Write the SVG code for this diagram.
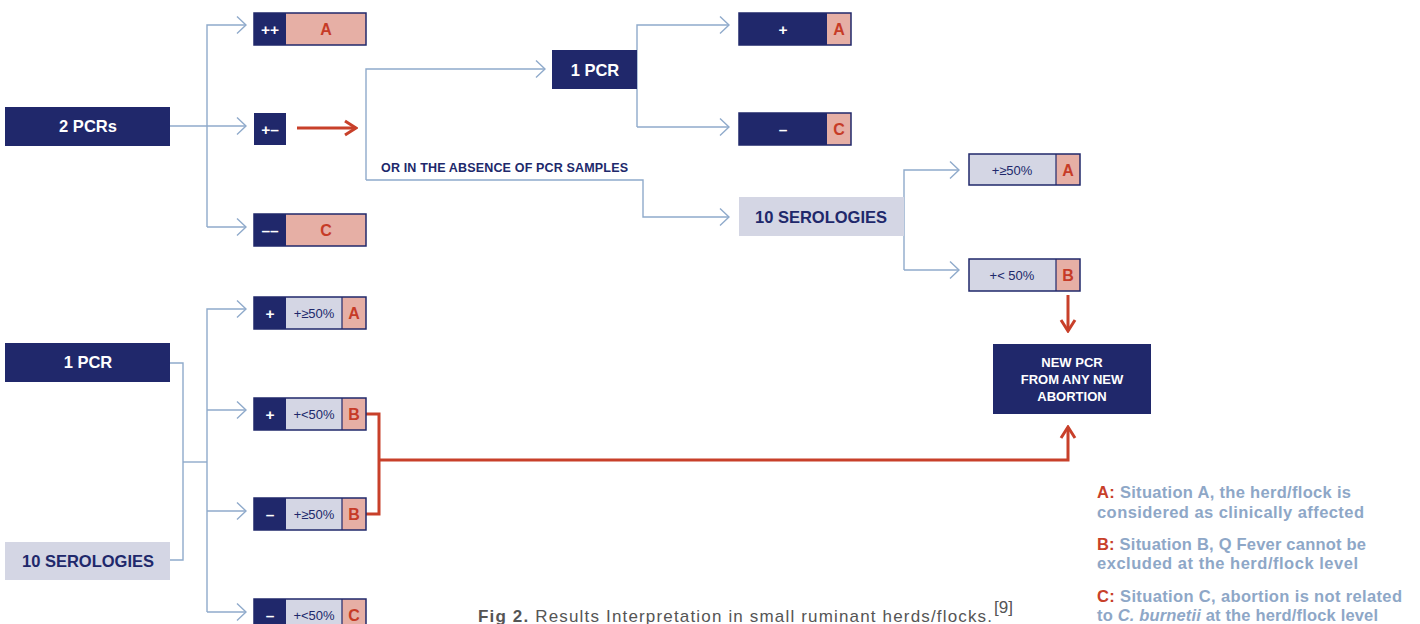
<svg xmlns="http://www.w3.org/2000/svg" width="1420" height="624" viewBox="0 0 1420 624">
<style>
.navy{fill:#20286B}
.pink{fill:#E6AFA5}
.lite{fill:#D4D6E4}
.frame{fill:none;stroke:#20286B;stroke-width:1.5}
.div{stroke:#20286B;stroke-width:1.2}
.conn{fill:none;stroke:#8FAACB;stroke-width:1.4}
.redl{fill:none;stroke:#C8402A;stroke-width:3}
.big{font-family:'Liberation Sans',Arial,sans-serif;font-weight:bold;font-size:16.5px;text-anchor:middle}
.w{fill:#FFFFFF}
.n{fill:#20286B}
.sym{font-family:'Liberation Sans',Arial,sans-serif;font-weight:bold;font-size:15.5px;text-anchor:middle;fill:#FFFFFF}
.let{font-family:'Liberation Sans',Arial,sans-serif;font-weight:bold;font-size:16px;text-anchor:middle;fill:#C63B27}
.pct{font-family:'Liberation Sans',Arial,sans-serif;font-size:13px;text-anchor:middle;fill:#20286B}
.small{font-family:'Liberation Sans',Arial,sans-serif;font-weight:bold;font-size:12.5px;fill:#20286B}
.np{font-family:'Liberation Sans',Arial,sans-serif;font-weight:bold;font-size:13px;text-anchor:middle;fill:#FFFFFF}
.leg{font-family:'Liberation Sans',Arial,sans-serif;font-weight:bold;font-size:16.5px;fill:#8EA7C7}
.lr{fill:#C8402A}
.cap{font-family:'Liberation Sans',Arial,sans-serif;font-size:17px;fill:#555555}
</style>
<defs>
<marker id="chev" viewBox="-11 -10 12 20" refX="0" refY="0" markerWidth="12" markerHeight="20" markerUnits="userSpaceOnUse" orient="auto">
<path d="M-9,-8.5 L0,0 L-9,8.5" fill="none" stroke="#8FAACB" stroke-width="1.4"/>
</marker>
<marker id="redchev" viewBox="-14 -10 16 20" refX="0" refY="0" markerWidth="16" markerHeight="20" markerUnits="userSpaceOnUse" orient="auto">
<path d="M-11,-7 L0,0 L-11,7" fill="none" stroke="#C8402A" stroke-width="3"/>
</marker>
</defs>

<g id="connectors">
<path class="conn" d="M207,227 V25 H246" marker-end="url(#chev)"/>
<path class="conn" d="M170,126 H246" marker-end="url(#chev)"/>
<path class="conn" d="M207,227 H246" marker-end="url(#chev)"/>
<path class="conn" d="M366,180 V69 H545" marker-end="url(#chev)"/>
<path class="conn" d="M366,180 H643 V217 H729" marker-end="url(#chev)"/>
<path class="conn" d="M637,127 V25 H729" marker-end="url(#chev)"/>
<path class="conn" d="M637,127 H729" marker-end="url(#chev)"/>
<path class="conn" d="M904,270 V170 H959" marker-end="url(#chev)"/>
<path class="conn" d="M904,270 H959" marker-end="url(#chev)"/>
<path class="conn" d="M170,363 H183 V560 H170"/>
<path class="conn" d="M183,462 H207"/>
<path class="conn" d="M207,612 V309 H246" marker-end="url(#chev)"/>
<path class="conn" d="M207,410 H246" marker-end="url(#chev)"/>
<path class="conn" d="M207,511 H246" marker-end="url(#chev)"/>
<path class="conn" d="M207,612 H246" marker-end="url(#chev)"/>
<path class="redl" d="M297,128 H356" marker-end="url(#redchev)"/>
<path class="redl" d="M1068,295 V331" marker-end="url(#redchev)"/>
<path class="redl" d="M366,414 H379 V514 H366"/>
<path class="redl" d="M379,460 H1068 V427" marker-end="url(#redchev)"/>
</g>

<g id="n-2pcrs">
<rect class="navy" x="5" y="107" width="165" height="39"/>
<text class="big w" x="88" y="132">2 PCRs</text>
</g>
<g id="n-pp">
<rect class="pink" x="254" y="13" width="112" height="32"/>
<rect class="navy" x="254" y="13" width="32" height="32"/>
<rect class="frame" x="254" y="13" width="112" height="32"/>
<text class="sym" x="270" y="34.5">++</text>
<text class="let" x="326" y="35">A</text>
</g>
<g id="n-pm">
<rect class="navy" x="254" y="113" width="32" height="32"/>
<text class="sym" x="270" y="134.5">+–</text>
</g>
<g id="n-mm">
<rect class="pink" x="254" y="214" width="112" height="32"/>
<rect class="navy" x="254" y="214" width="32" height="32"/>
<rect class="frame" x="254" y="214" width="112" height="32"/>
<text class="sym" x="270" y="235.5">––</text>
<text class="let" x="326" y="236">C</text>
</g>
<g id="n-absence">
<text class="small" x="381" y="172" textLength="247">OR IN THE ABSENCE OF PCR SAMPLES</text>
</g>
<g id="n-1pcr-top">
<rect class="navy" x="552" y="50" width="85" height="39"/>
<text class="big w" x="595" y="76">1 PCR</text>
</g>
<g id="n-plus-a">
<rect class="pink" x="739" y="13" width="112" height="32"/>
<rect class="navy" x="739" y="13" width="88" height="32"/>
<rect class="frame" x="739" y="13" width="112" height="32"/>
<text class="sym" x="783" y="34.5">+</text>
<text class="let" x="839" y="35">A</text>
</g>
<g id="n-minus-c">
<rect class="pink" x="739" y="113" width="112" height="32"/>
<rect class="navy" x="739" y="113" width="88" height="32"/>
<rect class="frame" x="739" y="113" width="112" height="32"/>
<text class="sym" x="783" y="134.5">–</text>
<text class="let" x="839" y="135">C</text>
</g>
<g id="n-10ser-top">
<rect class="lite" x="739" y="197" width="165" height="39"/>
<text class="big n" x="821" y="223">10 SEROLOGIES</text>
</g>
<g id="n-ge50-a">
<rect class="lite" x="969" y="154" width="111" height="31"/>
<rect class="pink" x="1056" y="154" width="24" height="31"/>
<line class="div" x1="1056" y1="154" x2="1056" y2="185"/>
<rect class="frame" x="969" y="154" width="111" height="31"/>
<text class="pct" x="1012" y="174.5">+≥50%</text>
<text class="let" x="1068" y="175.5">A</text>
</g>
<g id="n-lt50-b">
<rect class="lite" x="969" y="259" width="111" height="32"/>
<rect class="pink" x="1056" y="259" width="24" height="32"/>
<line class="div" x1="1056" y1="259" x2="1056" y2="291"/>
<rect class="frame" x="969" y="259" width="111" height="32"/>
<text class="pct" x="1012" y="280">+&lt; 50%</text>
<text class="let" x="1068" y="281">B</text>
</g>
<g id="n-newpcr">
<rect class="navy" x="993" y="344" width="158" height="70"/>
<text class="np" x="1072" y="367">NEW PCR</text>
<text class="np" x="1072" y="384">FROM ANY NEW</text>
<text class="np" x="1072" y="401">ABORTION</text>
</g>
<g id="n-1pcr-bot">
<rect class="navy" x="5" y="343" width="165" height="39"/>
<text class="big w" x="88" y="368">1 PCR</text>
</g>
<g id="n-10ser-bot">
<rect class="lite" x="5" y="542" width="165" height="38"/>
<text class="big n" x="88" y="567">10 SEROLOGIES</text>
</g>
<g id="n-r1">
<rect class="lite" x="254" y="297" width="112" height="32"/>
<rect class="navy" x="254" y="297" width="32" height="32"/>
<rect class="pink" x="342" y="297" width="24" height="32"/>
<line class="div" x1="342" y1="297" x2="342" y2="329"/>
<rect class="frame" x="254" y="297" width="112" height="32"/>
<text class="sym" x="270" y="318.5">+</text>
<text class="pct" x="314" y="317.5">+≥50%</text>
<text class="let" x="354" y="319">A</text>
</g>
<g id="n-r2">
<rect class="lite" x="254" y="398" width="112" height="32"/>
<rect class="navy" x="254" y="398" width="32" height="32"/>
<rect class="pink" x="342" y="398" width="24" height="32"/>
<line class="div" x1="342" y1="398" x2="342" y2="430"/>
<rect class="frame" x="254" y="398" width="112" height="32"/>
<text class="sym" x="270" y="419.5">+</text>
<text class="pct" x="314" y="418.5">+&lt;50%</text>
<text class="let" x="354" y="420">B</text>
</g>
<g id="n-r3">
<rect class="lite" x="254" y="498" width="112" height="32"/>
<rect class="navy" x="254" y="498" width="32" height="32"/>
<rect class="pink" x="342" y="498" width="24" height="32"/>
<line class="div" x1="342" y1="498" x2="342" y2="530"/>
<rect class="frame" x="254" y="498" width="112" height="32"/>
<text class="sym" x="270" y="519.5">–</text>
<text class="pct" x="314" y="518.5">+≥50%</text>
<text class="let" x="354" y="520">B</text>
</g>
<g id="n-r4">
<rect class="lite" x="254" y="599" width="112" height="32"/>
<rect class="navy" x="254" y="599" width="32" height="32"/>
<rect class="pink" x="342" y="599" width="24" height="32"/>
<line class="div" x1="342" y1="599" x2="342" y2="631"/>
<rect class="frame" x="254" y="599" width="112" height="32"/>
<text class="sym" x="270" y="620.5">–</text>
<text class="pct" x="314" y="619.5">+&lt;50%</text>
<text class="let" x="354" y="621">C</text>
</g>

<g id="legend">
<text class="leg" x="1097" y="498" textLength="254"><tspan class="lr">A:</tspan> Situation A, the herd/flock is</text>
<text class="leg" x="1097" y="518" textLength="267">considered as clinically affected</text>
<text class="leg" x="1097" y="550" textLength="269"><tspan class="lr">B:</tspan> Situation B, Q Fever cannot be</text>
<text class="leg" x="1097" y="569" textLength="261">excluded at the herd/flock level</text>
<text class="leg" x="1097" y="602" textLength="305"><tspan class="lr">C:</tspan> Situation C, abortion is not related</text>
<text class="leg" x="1097" y="621" textLength="281">to <tspan font-style="italic">C. burnetii</tspan> at the herd/flock level</text>
</g>

<g id="caption">
<text class="cap" x="478" y="622" textLength="514"><tspan font-weight="bold">Fig 2.</tspan> Results Interpretation in small ruminant herds/flocks.</text>
<text class="cap" x="994" y="613" font-size="10">[9]</text>
</g>
</svg>
